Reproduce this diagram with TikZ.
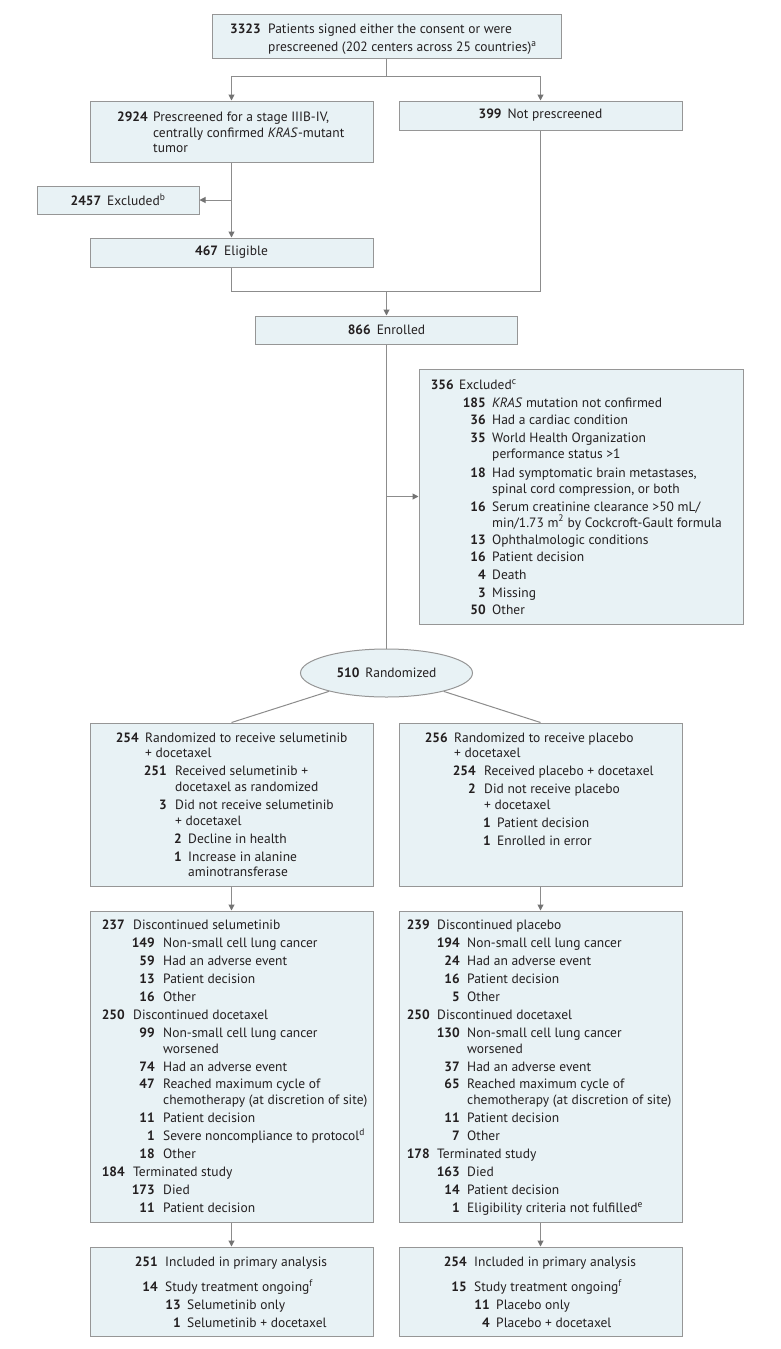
\documentclass[tikz,border=0pt]{standalone}
\usepackage{fontspec}
\setmainfont{PT Sans}
\usetikzlibrary{arrows.meta,shapes.geometric}
\definecolor{boxfill}{RGB}{232,242,245}
\definecolor{boxline}{RGB}{150,150,150}
\definecolor{conncol}{RGB}{140,140,140}
\definecolor{tipcol}{RGB}{115,115,115}
\definecolor{ink}{RGB}{35,31,32}
\newcommand\fs{\fontsize{13.5}{16}\selectfont}
\newcounter{lnc}
% #1 number right x, #2 text x, #3 centre y, #4 number, #5 text
\newcommand\En[5]{\stepcounter{lnc}%
  \node[numt,anchor=base east] (n\arabic{lnc}) at (#1,#3+4.7) {#4};%
  \node[txt,anchor=base west] (t\arabic{lnc}) at (#2,#3+4.7) {#5};}
% continuation line
\newcommand\Ct[3]{\stepcounter{lnc}%
  \node[txt,anchor=base west] (t\arabic{lnc}) at (#1,#2+4.7) {#3};}
\tikzset{
  numt/.style={inner sep=0pt,text=ink,font=\fs\bfseries},
  txt/.style={inner sep=0pt,text=ink,font=\fs},
  box/.style={draw=boxline,fill=boxfill,line width=1pt,inner sep=0pt,text=ink,font=\fs},
  conn/.style={draw=conncol,line width=1pt},
  arr/.style={conn,-{Triangle[length=6pt,width=6pt,color=tipcol]}}
}
\begin{document}
\begin{tikzpicture}[x=1pt,y=-1pt]
\useasboundingbox (0,0) rectangle (780,1349);
\fill[white] (0,0) rectangle (780,1349);

% ---------- boxes ----------
\node[box,minimum width=349pt,minimum height=44pt] (top) at (386.5,36) {};
\node[box,minimum width=283pt,minimum height=61pt] (b2924) at (231.5,131.5) {};
\node[box,minimum width=283pt,minimum height=29pt] (b399) at (540.5,115.5) {\textbf{399}\hspace{6pt}Not prescreened};
\node[box,minimum width=162pt,minimum height=28pt] (excl) at (118,200) {\textbf{2457}\hspace{6pt}Excluded\textsuperscript{b}};
\node[box,minimum width=283pt,minimum height=29pt] (elig) at (231.5,252.5) {\textbf{467}\hspace{6pt}Eligible};
\node[box,minimum width=262pt,minimum height=28pt] (enr) at (386.5,330) {\textbf{866}\hspace{6pt}Enrolled};
\node[box,minimum width=324pt,minimum height=255pt] (ex356) at (581,496.5) {};
\node[box,ellipse,minimum width=172pt,minimum height=48pt] (rand) at (386.5,673) {\textbf{510}\hspace{6pt}Randomized};
\node[box,minimum width=283pt,minimum height=163pt] (rL) at (231.5,804.5) {};
\node[box,minimum width=283pt,minimum height=163pt] (rR) at (540.5,804.5) {};
\node[box,minimum width=283pt,minimum height=311pt] (dL) at (231.5,1066.5) {};
\node[box,minimum width=283pt,minimum height=311pt] (dR) at (540.5,1066.5) {};
\node[box,minimum width=283pt,minimum height=89pt] (bL) at (231.5,1291.5) {};
\node[box,minimum width=283pt,minimum height=89pt] (bR) at (540.5,1291.5) {};

% ---------- connectors ----------
\coordinate (j1) at (386.5,76);
\draw[conn] (top.south) -- (j1);
\draw[arr] (j1) -| (b2924.north);
\draw[arr] (j1) -| (b399.north);
\draw[arr] (b2924.south) -- (elig.north);
\coordinate (j2) at (231.5,200);
\draw[arr] (j2) -- (excl.east);
\coordinate (j3) at (386.5,291);
\draw[conn] (elig.south) |- (j3);
\draw[conn] (b399.south) |- (j3);
\draw[arr] (j3) -- (enr.north);
\draw[conn] (enr.south) -- (rand.north);
\coordinate (j4) at (386.5,496.5);
\draw[arr] (j4) -- (ex356.west);
\draw[conn] (rand) -- (rL.north);
\draw[conn] (rand) -- (rR.north);
\draw[arr] (rL.south) -- (dL.north);
\draw[arr] (rR.south) -- (dR.north);
\draw[arr] (dL.south) -- (bL.north);
\draw[arr] (dR.south) -- (bR.north);

% ---------- texts ----------
\En{261}{268}{29}{3323}{Patients signed either the consent or were}
\Ct{268}{47}{prescreened (202 centers across 25 countries)\textsuperscript{a}}

\En{148}{153}{117}{2924}{Prescreened for a stage IIIB-IV,}
\Ct{153}{132.5}{centrally confirmed \textit{KRAS}-mutant}
\Ct{153}{148}{tumor}

\En{454}{459}{385}{356}{Excluded\textsuperscript{c}}
\En{486}{492}{402.5}{185}{\textit{KRAS} mutation not confirmed}
\En{486}{492}{420}{36}{Had a cardiac condition}
\En{486}{492}{437.5}{35}{World Health Organization}
\Ct{492}{454}{performance status >1}
\En{486}{492}{472.5}{18}{Had symptomatic brain metastases,}
\Ct{492}{488.5}{spinal cord compression, or both}
\En{486}{492}{506.5}{16}{Serum creatinine clearance >50 mL/}
\Ct{492}{522.5}{min/1.73 m\textsuperscript{2} by Cockcroft-Gault formula}
\En{486}{492}{539.5}{13}{Ophthalmologic conditions}
\En{486}{492}{557}{16}{Patient decision}
\En{486}{492}{575}{4}{Death}
\En{486}{492}{592.5}{3}{Missing}
\En{486}{492}{610}{50}{Other}

\En{139}{145}{738}{254}{Randomized to receive selumetinib}
\Ct{145}{753}{+ docetaxel}
\En{167}{175}{771}{251}{Received selumetinib +}
\Ct{175}{787}{docetaxel as randomized}
\En{167}{175}{805}{3}{Did not receive selumetinib}
\Ct{175}{821}{+ docetaxel}
\En{182}{188}{839}{2}{Decline in health}
\En{182}{188}{857}{1}{Increase in alanine}
\Ct{188}{872}{aminotransferase}

\En{448}{454}{738}{256}{Randomized to receive placebo}
\Ct{454}{753}{+ docetaxel}
\En{476}{484}{771}{254}{Received placebo + docetaxel}
\En{476}{484}{789}{2}{Did not receive placebo}
\Ct{484}{805}{+ docetaxel}
\En{491}{497}{823}{1}{Patient decision}
\En{491}{497}{841}{1}{Enrolled in error}

\En{125}{133}{925}{237}{Discontinued selumetinib}
\En{155}{163}{943}{149}{Non-small cell lung cancer}
\En{155}{163}{961}{59}{Had an adverse event}
\En{155}{163}{979}{13}{Patient decision}
\En{155}{163}{997}{16}{Other}
\En{125}{133}{1015}{250}{Discontinued docetaxel}
\En{155}{163}{1033}{99}{Non-small cell lung cancer}
\Ct{163}{1049}{worsened}
\En{155}{163}{1067}{74}{Had an adverse event}
\En{155}{163}{1084}{47}{Reached maximum cycle of}
\Ct{163}{1100}{chemotherapy (at discretion of site)}
\En{155}{163}{1118}{11}{Patient decision}
\En{155}{163}{1136}{1}{Severe noncompliance to protocol\textsuperscript{d}}
\En{155}{163}{1154}{18}{Other}
\En{125}{133}{1172}{184}{Terminated study}
\En{155}{163}{1190}{173}{Died}
\En{155}{163}{1208}{11}{Patient decision}

\En{430}{437}{925}{239}{Discontinued placebo}
\En{460}{467}{943}{194}{Non-small cell lung cancer}
\En{460}{467}{961}{24}{Had an adverse event}
\En{460}{467}{979}{16}{Patient decision}
\En{460}{467}{997}{5}{Other}
\En{430}{437}{1015}{250}{Discontinued docetaxel}
\En{460}{467}{1033}{130}{Non-small cell lung cancer}
\Ct{467}{1049}{worsened}
\En{460}{467}{1067}{37}{Had an adverse event}
\En{460}{467}{1084}{65}{Reached maximum cycle of}
\Ct{467}{1100}{chemotherapy (at discretion of site)}
\En{460}{467}{1118}{11}{Patient decision}
\En{460}{467}{1136}{7}{Other}
\En{430}{437}{1154}{178}{Terminated study}
\En{460}{467}{1172}{163}{Died}
\En{460}{467}{1190}{14}{Patient decision}
\En{460}{467}{1208}{1}{Eligibility criteria not fulfilled\textsuperscript{e}}

\En{158}{165}{1262}{251}{Included in primary analysis}
\En{158}{165}{1287}{14}{Study treatment ongoing\textsuperscript{f}}
\En{181}{187}{1305}{13}{Selumetinib only}
\En{181}{187}{1323}{1}{Selumetinib + docetaxel}

\En{467}{474}{1262}{254}{Included in primary analysis}
\En{467}{474}{1287}{15}{Study treatment ongoing\textsuperscript{f}}
\En{490}{496}{1305}{11}{Placebo only}
\En{490}{496}{1323}{4}{Placebo + docetaxel}
\end{tikzpicture}
\end{document}
